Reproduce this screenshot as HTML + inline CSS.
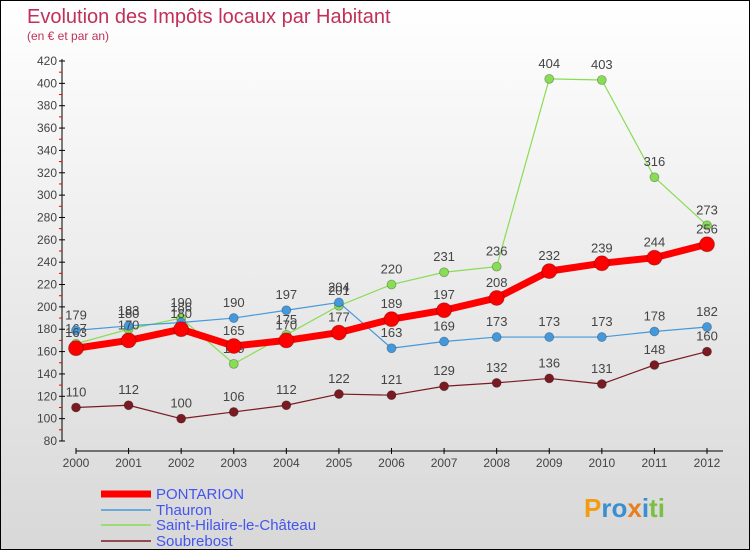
<!DOCTYPE html>
<html><head><meta charset="utf-8"><style>
body{margin:0;}
#c{width:750px;height:550px;position:relative;overflow:hidden;box-sizing:border-box;border:1px solid #000;background:linear-gradient(#fff,#d8d8d8);font-family:"Liberation Sans",sans-serif;}
svg text{font-family:"Liberation Sans",sans-serif;}
</style></head><body>
<div id="c">
<svg id="s" width="750" height="550">
<text x="26" y="22" font-size="20" fill="#c0305a">Evolution des Impôts locaux par Habitant</text>
<text x="26" y="39" font-size="12" fill="#c0305a">(en € et par an)</text>
</svg>
</div>
<script>
const years=["2000","2001","2002","2003","2004","2005","2006","2007","2008","2009","2010","2011","2012"];
const pontarion=[163,170,180,165,170,177,189,197,208,232,239,244,256];
const thauron=[179,183,186,190,197,204,163,169,173,173,173,178,182];
const stHilaire=[167,180,190,149,175,201,220,231,236,404,403,316,273];
const soubrebost=[110,112,100,106,112,122,121,129,132,136,131,148,160];
const yTicks=[80,100,120,140,160,180,200,220,240,260,280,300,320,340,360,380,400,420];
const seriesNames=["PONTARION","Thauron","Saint-Hilaire-le-Château","Soubrebost"];
const NS="http://www.w3.org/2000/svg";
const svg=document.getElementById('s');
function X(i){return 75+i*(706-75)/12;}
function Y(v){return 60+(420-v)*380/340;}
function mk(t,a,p){const e=document.createElementNS(NS,t);for(const k in a)e.setAttribute(k,a[k]);(p||svg).appendChild(e);return e;}
let ax=mk('line',{x1:61,y1:58,x2:61,y2:440,stroke:'#000'});


mk('line',{x1:58,y1:440,x2:64,y2:440,stroke:'#000'});
let xa=mk('line',{x1:75,y1:450,x2:722,y2:450,stroke:'#000'});


yTicks.forEach((v,i)=>{
 mk('line',{x1:58,x2:64,y1:Y(v),y2:Y(v),stroke:'#000'});
 if(i<yTicks.length-1){mk('line',{x1:58,x2:61,y1:Y(v+10),y2:Y(v+10),stroke:'#e00'});}
 const t=mk('text',{x:56,y:Y(v)+4,'font-size':12,fill:'#444','text-anchor':'end'});t.textContent=v;
 
 
});
years.forEach((y,i)=>{
 mk('line',{x1:X(i),x2:X(i),y1:447,y2:453,stroke:'#000'});
 const t=mk('text',{x:X(i),y:466,'font-size':12,fill:'#444','text-anchor':'middle'});t.textContent=y;
 
 
});
function series(data,color,w,r,name){
 const g=mk('g',{});
 
 
 mk('polyline',{points:data.map((v,i)=>X(i)+','+Y(v)).join(' '),fill:'none',stroke:color,'stroke-width':w,'stroke-linejoin':'round'},g);
 data.forEach((v,i)=>{
  const c=mk('circle',{cx:X(i),cy:Y(v),r:r,fill:color,stroke:'rgba(0,0,0,0.3)','stroke-width':0.8},g);
  
  
  const t=mk('text',{x:X(i),y:Y(v)-11,'font-size':13,fill:'#444','text-anchor':'middle'},g);t.textContent=v;
  
  
 });
}
series(soubrebost,'#7a1a22',1.2,4.5,'soubrebost-series');
series(stHilaire,'#88dd55',1.2,4.5,'st-hilaire-series');
series(thauron,'#4499dd',1.2,4.5,'thauron-series');
series(pontarion,'#ff0000',7,7.5,'pontarion-series');
const lc=['#ff0000','#4499dd','#88dd55','#7a1a22'],lw=[7,1.5,1.5,1.5],ly=[493,509,524,540];
seriesNames.forEach((n,i)=>{
 const g=mk('g',{});
 
 
 mk('line',{x1:100,x2:150,y1:ly[i],y2:ly[i],stroke:lc[i],'stroke-width':lw[i]},g);
 const t=mk('text',{x:155,y:ly[i]+5,'font-size':15,fill:'#4455ee'},g);t.textContent=n;
});
const p=mk('text',{x:583,y:516,'font-size':26,'font-weight':'bold',fill:'#3a8fd0'});


p.innerHTML='<tspan fill="#f39c12">P</tspan><tspan fill="#3a8fd0">ro</tspan><tspan fill="#e67e22">x</tspan><tspan fill="#3a8fd0">i</tspan><tspan fill="#7bc043">ti</tspan>';
</script>
</body></html>
